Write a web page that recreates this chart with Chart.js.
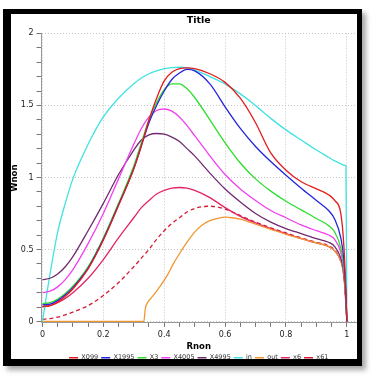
<!DOCTYPE html>
<html><head><meta charset="utf-8">
<script src="https://cdn.jsdelivr.net/npm/chart.js@4.4.1/dist/chart.umd.min.js"></script>
<style>
html,body{margin:0;padding:0;background:#fff;width:378px;height:385px;overflow:hidden;}
#frame{position:absolute;left:3px;top:9px;width:346px;height:345px;border-style:solid;border-color:#000;border-width:5px 5px 7px 8px;box-shadow:4px 4px 5px rgba(0,0,0,0.35);background:#fff;}
#c{display:block;}
</style></head>
<body><div id="frame"><canvas id="c" width="346" height="345"></canvas></div>
<script>
// Shared radial positions (Rnon) for most series
const rnon = [0,0.025,0.05,0.075,0.1,0.15,0.2,0.25,0.3,0.325,0.35,0.375,0.4,0.425,0.45,0.475,0.5,0.55,0.6,0.65,0.7,0.75,0.8,0.85,0.9,0.94,0.96,0.98,0.99,0.997,1.0];

const X099  = [0.105,0.11,0.135,0.175,0.225,0.365,0.565,0.805,1.06,1.22,1.40,1.55,1.67,1.73,1.755,1.76,1.755,1.72,1.66,1.55,1.38,1.17,1.05,0.97,0.92,0.88,0.84,0.75,0.53,0.2,0];
const X1995 = [0.115,0.12,0.145,0.185,0.235,0.37,0.57,0.81,1.06,1.22,1.38,1.50,1.60,1.68,1.725,1.75,1.74,1.65,1.49,1.34,1.215,1.11,1.015,0.925,0.84,0.77,0.71,0.58,0.43,0.18,0];
const X3    = [0.125,0.13,0.155,0.195,0.245,0.38,0.58,0.82,1.08,1.24,1.40,1.52,1.61,1.65,1.65,1.615,1.555,1.40,1.24,1.10,0.99,0.905,0.835,0.775,0.715,0.665,0.62,0.51,0.38,0.15,0];
const X4005 = [0.20,0.21,0.24,0.29,0.36,0.54,0.75,0.99,1.23,1.34,1.42,1.465,1.475,1.46,1.42,1.36,1.29,1.15,1.02,0.92,0.84,0.77,0.72,0.67,0.63,0.60,0.57,0.48,0.36,0.15,0];
const X4995 = [0.29,0.30,0.33,0.38,0.45,0.63,0.82,1.02,1.19,1.26,1.295,1.305,1.30,1.28,1.25,1.20,1.15,1.03,0.92,0.83,0.75,0.69,0.645,0.61,0.575,0.55,0.52,0.44,0.34,0.14,0];
const IN    = [0,0.33,0.62,0.82,0.99,1.23,1.42,1.55,1.65,1.69,1.72,1.74,1.755,1.763,1.765,1.76,1.745,1.70,1.65,1.58,1.50,1.41,1.33,1.26,1.19,1.14,1.115,1.095,1.085,1.08,0];
const X6    = [0.10,0.11,0.13,0.16,0.20,0.30,0.43,0.58,0.72,0.79,0.84,0.885,0.91,0.925,0.93,0.925,0.91,0.86,0.79,0.73,0.685,0.645,0.61,0.575,0.545,0.52,0.49,0.42,0.32,0.12,0];
const X61   = [0.015,0.02,0.03,0.045,0.065,0.11,0.18,0.27,0.38,0.44,0.50,0.57,0.63,0.68,0.72,0.76,0.785,0.80,0.78,0.735,0.69,0.65,0.615,0.58,0.55,0.525,0.495,0.42,0.32,0.12,0];

// "out" series has its own radial positions
const outR = [0,0.1,0.2,0.3,0.333,0.338,0.345,0.36,0.385,0.41,0.43,0.45,0.475,0.5,0.525,0.55,0.575,0.6,0.625,0.65,0.7,0.75,0.8,0.85,0.9,0.94,0.96,0.98,0.99,0.997,1];
const outW = [0,0,0,0,0,0.09,0.13,0.17,0.24,0.32,0.40,0.47,0.55,0.62,0.67,0.70,0.715,0.724,0.72,0.71,0.675,0.64,0.605,0.575,0.545,0.52,0.49,0.42,0.32,0.12,0];

// Axis ticks
const xTickValues = [0,0.05,0.1,0.15,0.2,0.25,0.3,0.35,0.4,0.45,0.5,0.55,0.6,0.65,0.7,0.75,0.8,0.85,0.9,0.95,1];
const xTickLabels = {"0":"0","0.2":"0.2","0.4":"0.4","0.6":"0.6","0.8":"0.8","1":"1"};
const yTickValues = [0,0.1,0.2,0.3,0.4,0.5,0.6,0.7,0.8,0.9,1,1.1,1.2,1.3,1.4,1.5,1.6,1.7,1.8,1.9,2];
const yTickLabels = {"0":"0","0.5":"0.5","1":"1","1.5":"1.5","2":"2"};

const seriesNames = ["X099","X1995","X3","X4005","X4995","in","out","x6","x61"];

function pts(xs, ys){ return ys.map((y,i)=>({x:xs[i], y:y})); }

const FONT = "'DejaVu Sans', Verdana, sans-serif";
const mk = (label, data, color, dash) => ({
  label, data, borderColor: color, backgroundColor: color, borderWidth: 1.3,
  pointRadius: 0, fill: false, cubicInterpolationMode: 'monotone', borderDash: dash || []
});

const keyOf = v => String(Math.round(v*1000)/1000);

new Chart(document.getElementById('c'), {
  type: 'line',
  data: { datasets: [
    mk(seriesNames[0], pts(rnon, X099), 'rgb(228,28,28)'),
    mk(seriesNames[1], pts(rnon, X1995), 'rgb(36,36,222)'),
    mk(seriesNames[2], pts(rnon, X3), 'rgb(46,222,46)'),
    mk(seriesNames[3], pts(rnon, X4005), 'rgb(240,64,240)'),
    mk(seriesNames[4], pts(rnon, X4995), 'rgb(112,42,112)'),
    mk(seriesNames[5], pts(rnon, IN), 'rgb(64,226,226)'),
    mk(seriesNames[6], pts(outR, outW), 'rgb(240,150,50)'),
    mk(seriesNames[7], pts(rnon, X6), 'rgb(226,36,100)'),
    mk(seriesNames[8], pts(rnon, X61), 'rgb(214,24,48)', [4,3])
  ]},
  options: {
    responsive: false, animation: false, devicePixelRatio: 1,
    layout: { padding: { left: 0, right: 1, top: 1, bottom: 0 } },
    plugins: {
      title: { display: true, fullSize: false, text: 'Title', color: '#000', font: { family: FONT, size: 9.5, weight: 'bold' }, padding: { top: 0, bottom: 7 } },
      legend: { position: 'bottom', fullSize: false, maxHeight: 7.5, labels: { usePointStyle: true, pointStyle: 'line', pointStyleWidth: 9, boxHeight: 6, color: '#333', font: { family: FONT, size: 6.5 }, padding: 3 } },
      tooltip: { enabled: false }
    },
    scales: {
      x: {
        type: 'linear', min: -0.003, max: 1.03,
        afterBuildTicks: s => { s.ticks = xTickValues.map(v => ({ value: v })); },
        ticks: { autoSkip: false, maxRotation: 0, color: '#222', font: { family: FONT, size: 8 }, padding: 3,
          callback: v => xTickLabels[keyOf(v)] || '' },
        grid: { color: c => (c.tick && xTickLabels[keyOf(c.tick.value)] !== undefined) ? '#c4c4c4' : 'rgba(0,0,0,0)', tickColor: '#777', tickLength: 4, lineWidth: 1 },
        border: { display: true, color: '#999', width: 1, dash: [1,2] },
        title: { display: true, text: 'Rnon', color: '#000', font: { family: FONT, size: 8.5, weight: 'bold', lineHeight: 1 }, padding: { top: 0, bottom: 0.5 } }
      },
      y: {
        type: 'linear', min: -0.01, max: 2,
        afterBuildTicks: s => { s.ticks = yTickValues.map(v => ({ value: v })); },
        ticks: { autoSkip: false, color: '#222', font: { family: FONT, size: 8 }, padding: 3,
          callback: v => yTickLabels[keyOf(v)] || '' },
        grid: { color: c => (c.tick && yTickLabels[keyOf(c.tick.value)] !== undefined) ? '#c4c4c4' : 'rgba(0,0,0,0)', tickColor: '#777', tickLength: 5, lineWidth: 1 },
        border: { display: true, color: '#999', width: 1, dash: [1,2] },
        title: { display: true, text: 'Wnon', color: '#000', font: { family: FONT, size: 8.5, weight: 'bold', lineHeight: 0.8 }, padding: { top: 0, bottom: 0 } }
      }
    }
  }
});
</script>
</body></html>
